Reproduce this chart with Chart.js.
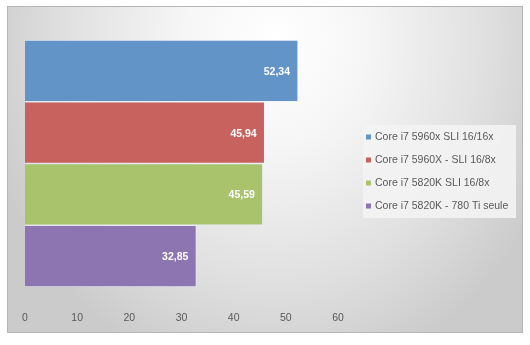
<!DOCTYPE html>
<html><head><meta charset="utf-8">
<script src="https://cdn.jsdelivr.net/npm/chart.js@4"></script>
<style>html,body{margin:0;padding:0;background:#fff;}#wrap{width:530px;height:345px;position:relative;}</style>
</head><body><div id="wrap"><canvas id="c" width="530" height="345"></canvas></div>
<script>
const categories = [''];
const seriesLabels = ['Core i7 5960x SLI 16/16x','Core i7 5960X - SLI 16/8x','Core i7 5820K SLI 16/8x','Core i7 5820K - 780 Ti seule'];
const seriesValues = [52.34, 45.94, 45.59, 32.85];
const seriesColors = ['#6394c8','#c8625f','#a8c36c','#8c75b0'];
const xTicks = [0,10,20,30,40,50,60];

const fmt = v => v.toFixed(2).replace('.', ',');

const bgPlugin = {
  id: 'bg',
  beforeDraw(chart) {
    const ctx = chart.ctx;
    ctx.save();
    ctx.fillStyle = '#ffffff';
    ctx.fillRect(0,0,chart.width,chart.height);
    const x0=7,y0=6,x1=523,y1=333;
    ctx.save();
    ctx.beginPath(); ctx.rect(x0,y0,x1-x0,y1-y0); ctx.clip();
    ctx.translate(275,40);
    ctx.scale(1.0,1.15);
    const g = ctx.createRadialGradient(0,0,0,0,0,300);
    g.addColorStop(0,'#ffffff');
    g.addColorStop(0.3,'#f6f6f6');
    g.addColorStop(0.7,'#e0e0e0');
    g.addColorStop(1,'#cbcbcb');
    ctx.fillStyle = g;
    ctx.fillRect(-400,-300,800,600);
    ctx.restore();
    ctx.strokeStyle = '#b5b5b5';
    ctx.lineWidth = 1;
    ctx.strokeRect(x0+0.5,y0+0.5,x1-x0-1,y1-y0-1);
    // legend
    ctx.fillStyle = 'rgba(243,243,243,0.9)';
    ctx.fillRect(363,125,153,93);
    const rows = [137,160,183,206];
    ctx.font = '10.5px "Liberation Sans", Arial, sans-serif';
    ctx.textBaseline = 'middle';
    ctx.textAlign = 'left';
    chart.data.datasets.forEach((ds,i)=>{
      ctx.fillStyle = ds.backgroundColor;
      ctx.fillRect(366,rows[i]-2.5,5,5);
      ctx.fillStyle = '#595959';
      ctx.fillText(ds.label,375,rows[i]);
    });
    ctx.restore();
  }
};

const labelPlugin = {
  id: 'vals',
  afterDatasetsDraw(chart) {
    const ctx = chart.ctx;
    ctx.save();
    ctx.font = 'bold 10.5px "Liberation Sans", Arial, sans-serif';
    ctx.fillStyle = '#ffffff';
    ctx.textAlign = 'right';
    ctx.textBaseline = 'middle';
    chart.data.datasets.forEach((ds,i)=>{
      const meta = chart.getDatasetMeta(i);
      meta.data.forEach((el,j)=>{
        ctx.fillText(fmt(ds.data[j]), el.x-8, el.y+1);
      });
    });
    ctx.restore();
  }
};

new Chart(document.getElementById('c'), {
  type: 'bar',
  data: {
    labels: categories,
    datasets: seriesLabels.map((l,i)=>({
      label: l,
      data: [seriesValues[i]],
      backgroundColor: seriesColors[i],
      borderColor: 'rgba(235,240,250,0.6)',
      borderWidth: 1,
      categoryPercentage: 1,
      barPercentage: 1
    }))
  },
  options: {
    indexAxis: 'y',
    responsive: false,
    animation: false,
    events: [],
    layout: { padding: { left: 25, right: 192, top: 40, bottom: 20 } },
    plugins: { legend: { display: false }, tooltip: { enabled: false } },
    scales: {
      y: { display: false },
      x: {
        min: 0, max: 60,
        afterBuildTicks: axis => { axis.ticks = xTicks.map(v=>({value:v})); },
        afterFit: s => { s.height = 38; s.paddingLeft = 0; s.paddingRight = 0; },
        grid: { display: false, drawTicks: false },
        border: { display: false },
        ticks: { color: '#595959', padding: 25, font: { family: '"Liberation Sans", Arial, sans-serif', size: 10.5 } }
      }
    }
  },
  plugins: [bgPlugin, labelPlugin]
});
</script></body></html>
